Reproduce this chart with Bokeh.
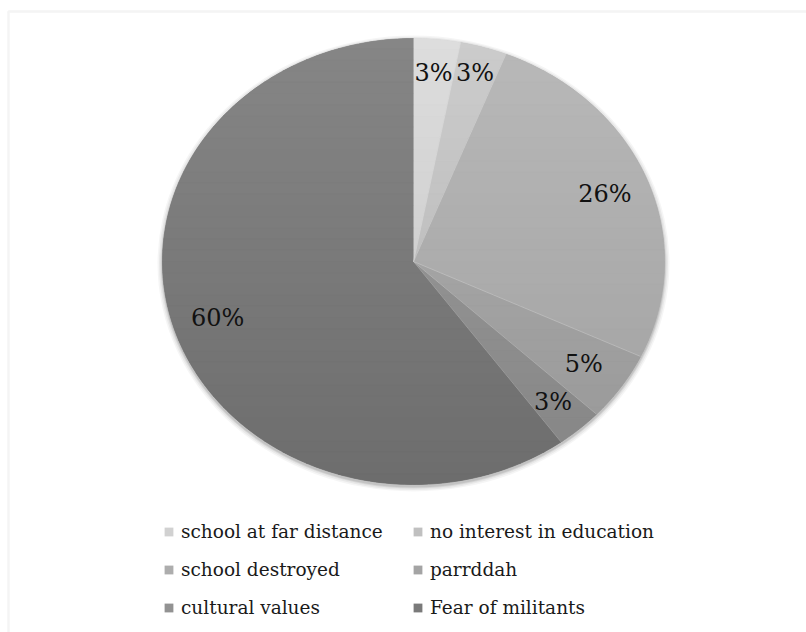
import numpy as np
from bokeh.plotting import figure
from bokeh.models import Range1d, Legend, LegendItem, BoxAnnotation, ColumnDataSource
from bokeh.core.properties import value
from bokeh.embed import file_html
from bokeh.resources import INLINE

# ---- data -------------------------------------------------------------
categories = ["school at far distance", "no interest in education",
              "school destroyed", "parrddah", "cultural values",
              "Fear of militants"]
shares = [3, 3, 26, 5, 3, 60]
pct_labels = ["3%", "3%", "26%", "5%", "3%", "60%"]

# ---- styling / layout ---------------------------------------------------
base_grey = [209, 192, 173, 164, 146, 122]      # grey level of each slice at mid height
label_r = [0.85, 0.88, 0.82, 0.82, 0.84, 0.82]  # radial position of each % label
W, H = 806, 632
CX, CY, RX, RY = 413, 261, 251, 223
FONT = "DejaVu Serif"


def grey(v):
    v = int(round(max(0, min(255, v))))
    return "#%02x%02x%02x" % (v, v, v)


def shade(y):
    """Vertical gradient offset applied across the pie."""
    return 12 - 25 * (y - (CY - RY)) / (2 * RY)


def clip_band(poly, y0, y1):
    """Sutherland-Hodgman clip of a polygon to the band y0 <= y <= y1."""
    def clip(pts, inside, c):
        out = []
        n = len(pts)
        for i in range(n):
            s, e = pts[i - 1], pts[i]
            si, ei = inside(s), inside(e)
            if ei:
                if not si:
                    t = (c - s[1]) / (e[1] - s[1])
                    out.append((s[0] + t * (e[0] - s[0]), c))
                out.append(e)
            elif si:
                t = (c - s[1]) / (e[1] - s[1])
                out.append((s[0] + t * (e[0] - s[0]), c))
        return out
    pts = clip(poly, lambda q: q[1] >= y0, y0)
    if not pts:
        return []
    return clip(pts, lambda q: q[1] <= y1, y1)


p = figure(width=W, height=H, x_range=Range1d(0, W), y_range=Range1d(H, 0),
           output_backend="svg", toolbar_location=None, min_border=0,
           x_axis_location=None, y_axis_location=None)
p.grid.visible = False
p.outline_line_color = None
p.background_fill_color = "white"
p.border_fill_color = "white"

# thin grey frame around the chart area
p.add_layout(BoxAnnotation(left=8, top=11, right=W + 40, bottom=H + 40,
                           fill_alpha=0, line_color="#dadada", line_width=2.5))

# soft shadow under the pie
for k, a in [(10, 0.04), (7, 0.05), (4, 0.07), (2, 0.09)]:
    p.ellipse(x=CX, y=CY + 2, width=2 * RX + k, height=2 * RY + k,
              fill_color="black", fill_alpha=a, line_color=None)

# slice outlines from the shares
total = float(sum(shares))
fracs = np.cumsum([0] + shares) / total
polys, mids = [], []
for i in range(len(shares)):
    t0, t1 = fracs[i] * 2 * np.pi, fracs[i + 1] * 2 * np.pi
    n = max(6, int(shares[i] * 4))
    t = np.linspace(t0, t1, n)
    pts = [(CX, CY)] + [(CX + RX * np.sin(a), CY - RY * np.cos(a)) for a in t]
    polys.append(pts)
    mids.append((t0 + t1) / 2)

src = ColumnDataSource(dict(
    xs=[[q[0] for q in pts] for pts in polys],
    ys=[[q[1] for q in pts] for pts in polys],
    color=[grey(g) for g in base_grey],
    name=categories,
))
base = p.patches("xs", "ys", source=src, fill_color="color", line_color=None)

# gradient bands drawn over each slice
nb = 40
edges = np.linspace(CY - RY - 1, CY + RY + 1, nb + 1)
bx, by, bc = [], [], []
for i, pts in enumerate(polys):
    for j in range(nb):
        piece = clip_band(pts, edges[j], edges[j + 1])
        if len(piece) < 3:
            continue
        bx.append([q[0] for q in piece])
        by.append([q[1] for q in piece])
        bc.append(grey(base_grey[i] + shade((edges[j] + edges[j + 1]) / 2)))
p.patches(bx, by, fill_color=bc, line_color=bc, line_width=0.7)

# faint separators between slices
sx = [[CX, CX + RX * np.sin(f * 2 * np.pi)] for f in fracs[:-1]]
sy = [[CY, CY - RY * np.cos(f * 2 * np.pi)] for f in fracs[:-1]]
p.multi_line(sx, sy, line_color="white", line_alpha=0.25, line_width=1)

# percentage labels
lx = [CX + RX * r * np.sin(m) for r, m in zip(label_r, mids)]
ly = [CY - RY * r * np.cos(m) for r, m in zip(label_r, mids)]
p.text(x=lx, y=ly, text=pct_labels, text_font=value(FONT),
       text_font_size="24px", text_align="center", text_baseline="middle",
       text_color="#111111")

# two-column legend
items = [LegendItem(label=categories[i], renderers=[base], index=i)
         for i in range(len(categories))]
for col, x0 in [(0, 163), (1, 412)]:
    leg = Legend(items=items[col::2], location=(x0, 14),
                 orientation="vertical", padding=0, margin=0,
                 spacing=16, label_height=22, glyph_width=11, glyph_height=11,
                 label_standoff=7, label_text_font=FONT,
                 label_text_font_size="18.5px", label_text_color="#1a1a1a",
                 background_fill_alpha=0, border_line_alpha=0)
    p.add_layout(leg)

open("out.html", "w").write(file_html(p, INLINE))
